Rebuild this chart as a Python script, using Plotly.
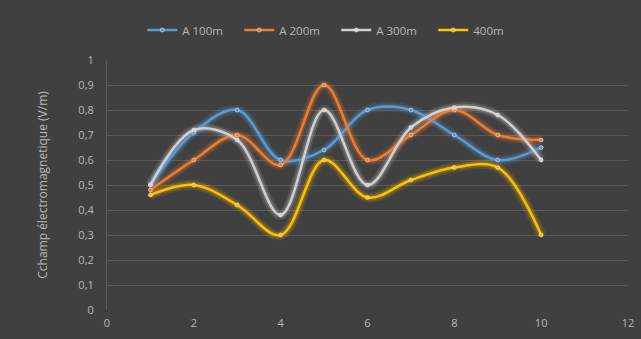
import plotly.graph_objects as go

# Measurement points (distance index) and field strength for each series
x_points = [1, 2, 3, 4, 5, 6, 7, 8, 9, 10]
a100 = [0.50, 0.71, 0.80, 0.60, 0.64, 0.80, 0.80, 0.70, 0.60, 0.65]
a200 = [0.48, 0.60, 0.70, 0.58, 0.90, 0.60, 0.70, 0.80, 0.70, 0.68]
a300 = [0.50, 0.72, 0.68, 0.38, 0.80, 0.50, 0.73, 0.81, 0.78, 0.60]
a400 = [0.46, 0.50, 0.42, 0.30, 0.60, 0.45, 0.52, 0.57, 0.57, 0.30]

series_names = ["A 100m", "A 200m", "A 300m", "400m"]
series_values = [a100, a200, a300, a400]
series_colors = ["#5b9bd5", "#ed7d31", "#d0d0d0", "#ffc000"]

x_ticks = [0, 2, 4, 6, 8, 10, 12]
y_ticks = [0, 0.1, 0.2, 0.3, 0.4, 0.5, 0.6, 0.7, 0.8, 0.9, 1]

BG = "#404040"
GRID = "#595959"
TEXT = "#b8b8b8"
FONT = "Open Sans"

fig = go.Figure()

# soft glow under each curve
for name, vals, col in zip(series_names, series_values, series_colors):
    for w, op in ((10, 0.12), (6, 0.22)):
        fig.add_trace(go.Scatter(
            x=x_points, y=vals, mode="lines",
            line=dict(color=col, width=w, shape="spline", smoothing=1.0),
            opacity=op, showlegend=False, hoverinfo="skip",
        ))

# main curves with small markers
for name, vals, col in zip(series_names, series_values, series_colors):
    fig.add_trace(go.Scatter(
        x=x_points, y=vals, name=name, mode="lines+markers",
        line=dict(color=col, width=2.5, shape="spline", smoothing=1.0),
        marker=dict(color=col, size=4, line=dict(color="#f0f0f0", width=0.5)),
    ))

W, H = 641, 339
L, R, T, B = 107, 13, 60, 29
pw, ph = W - L - R, H - T - B

fig.update_layout(
    width=W, height=H,
    margin=dict(l=L, r=R, t=T, b=B, autoexpand=False),
    paper_bgcolor=BG,
    plot_bgcolor=BG,
    separators=", ",
    font=dict(family=FONT, size=11, color=TEXT),
    legend=dict(
        orientation="h", x=0.44, xanchor="center", y=(H - B - 30) / ph, yanchor="middle",
        font=dict(family=FONT, size=11.5, color=TEXT),
        bgcolor="rgba(0,0,0,0)", entrywidth=52, entrywidthmode="pixels",
        itemwidth=30,
    ),
    xaxis=dict(
        range=[0, 12], tickvals=x_ticks, showgrid=False, zeroline=False,
        showline=False, ticks="", tickfont=dict(size=11, color=TEXT),
        ticklabelstandoff=5, automargin=False,
    ),
    yaxis=dict(
        range=[0, 1], tickvals=y_ticks, showgrid=True, gridcolor=GRID, gridwidth=1,
        zeroline=False, showline=True, linecolor=GRID, linewidth=1, ticks="",
        tickfont=dict(size=11, color=TEXT), ticklabelstandoff=10, automargin=False,
        title=dict(text="Cchamp électromagnetique (V/m)",
                   font=dict(size=12, color=TEXT), standoff=28),
    ),
    showlegend=True,
)

fig.write_html("out.html")
